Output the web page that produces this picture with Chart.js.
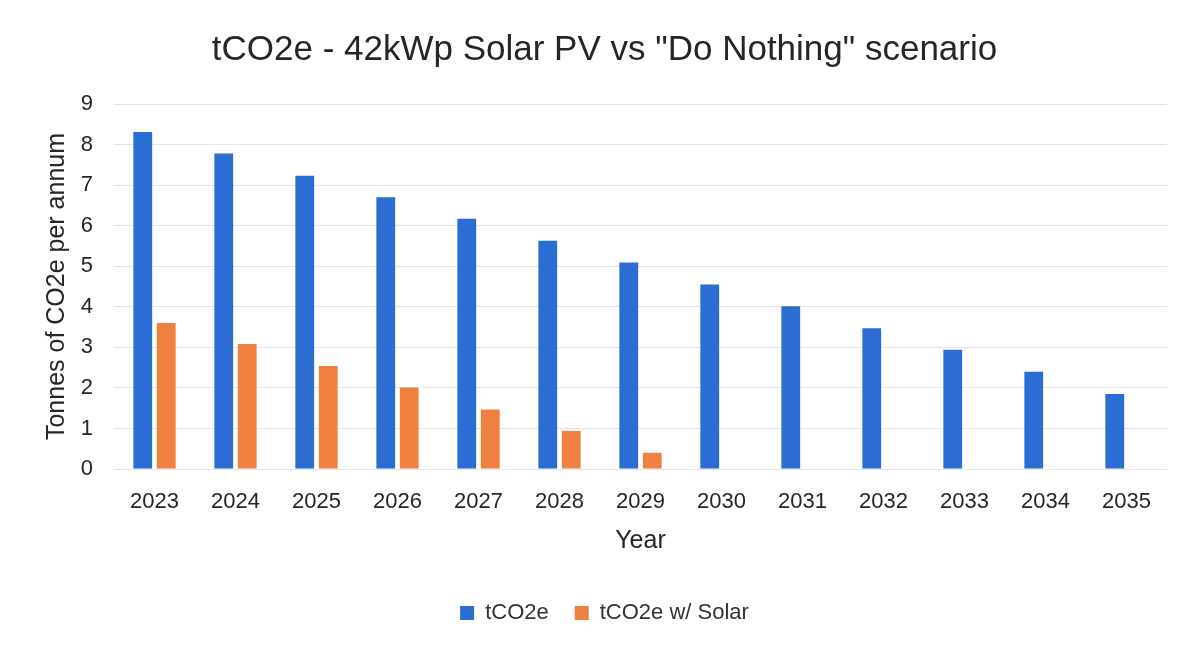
<!DOCTYPE html>
<html>
<head>
<meta charset="utf-8">
<script src="https://cdn.jsdelivr.net/npm/chart.js@4/dist/chart.umd.min.js"></script>
<style>
  html, body { margin: 0; padding: 0; background: #ffffff; }
  #wrap { width: 1193px; height: 648px; position: relative; }
</style>
</head>
<body>
<div id="wrap"><canvas id="c" width="1193" height="648"></canvas></div>
<script>
const categories = ['2023','2024','2025','2026','2027','2028','2029','2030','2031','2032','2033','2034','2035'];
const seriesNames = ['tCO2e', 'tCO2e w/ Solar'];
const tco2e = [8.31, 7.78, 7.23, 6.70, 6.17, 5.63, 5.09, 4.55, 4.01, 3.47, 2.94, 2.40, 1.85];
const tco2eSolar = [3.60, 3.08, 2.54, 2.01, 1.47, 0.94, 0.40, 0, 0, 0, 0, 0, 0];
const yTicks = [0, 1, 2, 3, 4, 5, 6, 7, 8, 9];

const FONT = "'Liberation Sans', Arial, sans-serif";

new Chart(document.getElementById('c'), {
  type: 'bar',
  data: {
    labels: categories,
    datasets: [
      { label: seriesNames[0], data: tco2e, backgroundColor: '#2B6DD2', barPercentage: 0.8, categoryPercentage: 0.58 },
      { label: seriesNames[1], data: tco2eSolar, backgroundColor: '#F0803F', barPercentage: 0.8, categoryPercentage: 0.58 }
    ]
  },
  options: {
    responsive: false,
    animation: false,
    layout: { padding: { left: 42, right: 26, top: 0, bottom: 14 } },
    plugins: {
      title: {
        display: true,
        text: 'tCO2e - 42kWp Solar PV vs "Do Nothing" scenario',
        color: '#262626',
        font: { family: FONT, size: 35, weight: 'normal' },
        padding: { top: 29, bottom: 33 }
      },
      legend: {
        position: 'bottom',
        labels: {
          color: '#333333',
          font: { family: FONT, size: 22 },
          boxWidth: 14, boxHeight: 14,
          padding: 26
        }
      },
      tooltip: { enabled: false }
    },
    scales: {
      x: {
        afterFit: (axis) => { axis.height = 107; },
        grid: { display: false, drawTicks: false },
        border: { display: false },
        ticks: { color: '#262626', font: { family: FONT, size: 22 }, padding: 20, maxRotation: 0 },
        title: { display: true, text: 'Year', color: '#262626', font: { family: FONT, size: 25 }, padding: { top: 0, bottom: 20 } }
      },
      y: {
        min: 0, max: 9,
        afterFit: (axis) => { axis.width = 72; },
        afterBuildTicks: (axis) => { axis.ticks = yTicks.map(v => ({ value: v })); },
        grid: { color: '#e3e3e3', lineWidth: 1, drawTicks: false },
        border: { display: false },
        ticks: { color: '#262626', font: { family: FONT, size: 22 }, padding: 21 },
        title: { display: true, text: 'Tonnes of CO2e per annum', color: '#262626', font: { family: FONT, size: 25 }, padding: { top: 0, bottom: 0 } }
      }
    }
  }
});
</script>
</body>
</html>
